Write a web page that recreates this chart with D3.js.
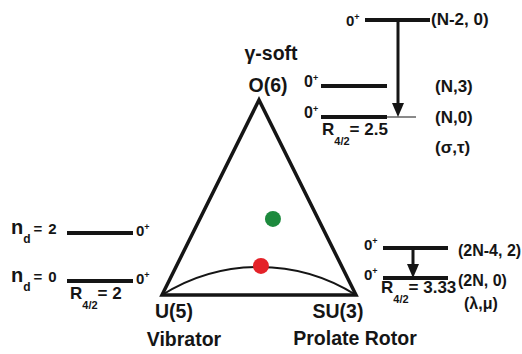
<!DOCTYPE html>
<html>
<head>
<meta charset="utf-8">
<script src="https://cdn.jsdelivr.net/npm/d3@7"></script>
<style>
  body { margin: 0; background: #fff; }
  text { font-family: "Liberation Sans", Arial, sans-serif; font-weight: bold; fill: #151515; }
</style>
</head>
<body>
<svg></svg>
<script>
const WIDTH = 522;
const HEIGHT = 354;
const INK = "#151515";

// triangle corners (normalised coordinates) and their names
const vertexNames = ["U(5)", "SU(3)", "O(6)"];
const vertexLimits = ["Vibrator", "Prolate Rotor", "γ-soft"];
const vertexX = [0, 1, 0.5];
const vertexY = [0, 0, 1];

// nuclei placed inside the triangle
const pointX = [0.572, 0.51];
const pointY = [0.39, 0.149];
const pointColors = ["#1d8a3d", "#e42229"];

// height of the arc joining U(5) and SU(3)
const arcHeight = 0.144;

// level schemes (relative energies)
const u5Energies = [0, 1];
const u5Names = ["0", "2"];
const u5Ratio = "2";

const o6Energies = [0, 0.32, 1];
const o6Names = ["(N,0)", "(N,3)", "(N-2, 0)"];
const o6Ratio = "2.5";

const su3Energies = [0, 1];
const su3Names = ["(2N, 0)", "(2N-4, 2)"];
const su3Ratio = "3.33";

const svg = d3.select("svg").attr("width", WIDTH).attr("height", HEIGHT);

// ---- triangle ----
const xScale = d3.scaleLinear().domain([0, 1]).range([162, 356]);
const yScale = d3.scaleLinear().domain([0, 1]).range([295, 100]);

const corners = vertexX.map((x, i) => [xScale(x), yScale(vertexY[i])]);
svg.append("path")
   .attr("d", "M" + corners.join("L") + "Z")
   .attr("fill", "none")
   .attr("stroke", INK)
   .attr("stroke-width", 3.5)
   .attr("stroke-linejoin", "miter");

// circular arc through both bottom corners
const chord = xScale(1) - xScale(0);
const sag = yScale(0) - yScale(arcHeight);
const radius = (chord * chord / 4 + sag * sag) / (2 * sag);
svg.append("path")
   .attr("d", `M${xScale(0)},${yScale(0)} A${radius},${radius} 0 0 1 ${xScale(1)},${yScale(0)}`)
   .attr("fill", "none")
   .attr("stroke", INK)
   .attr("stroke-width", 2);

svg.selectAll(".pt")
   .data(pointX)
   .enter()
   .append("circle")
   .attr("class", "pt")
   .attr("cx", d => xScale(d))
   .attr("cy", (_, i) => yScale(pointY[i]))
   .attr("r", 8)
   .attr("fill", (_, i) => pointColors[i]);

// corner names and limit names
const nameOffsets = [[12, 23], [-18, 23], [9, -8]];
const limitOffsets = [[22, 51], [-1, 50], [12, -40]];
vertexNames.forEach((name, i) => {
   svg.append("text")
      .attr("x", corners[i][0] + nameOffsets[i][0])
      .attr("y", corners[i][1] + nameOffsets[i][1])
      .attr("text-anchor", "middle")
      .attr("font-size", 19.5)
      .text(name);
   svg.append("text")
      .attr("x", corners[i][0] + limitOffsets[i][0])
      .attr("y", corners[i][1] + limitOffsets[i][1])
      .attr("text-anchor", "middle")
      .attr("font-size", 19.5)
      .text(vertexLimits[i]);
});

// ---- helpers for level schemes ----
function level(x1, x2, y, w) {
   svg.append("line")
      .attr("x1", x1).attr("x2", x2)
      .attr("y1", y).attr("y2", y)
      .attr("stroke", INK)
      .attr("stroke-width", w || 4);
}

function zeroPlus(x, y, size) {
   const t = svg.append("text")
      .attr("x", x)
      .attr("y", y)
      .attr("font-size", size || 15);
   t.append("tspan").text("0");
   t.append("tspan").attr("font-size", 9).attr("dy", -6).text("+");
}

function ratio(x, y, value) {
   const t = svg.append("text")
      .attr("x", x)
      .attr("y", y)
      .attr("font-size", 17);
   t.append("tspan").text("R");
   t.append("tspan").attr("font-size", 11).attr("dy", 10).text("4/2");
   t.append("tspan").attr("dy", -10).text("= " + value);
}

function label(x, y, s, size) {
   svg.append("text")
      .attr("x", x)
      .attr("y", y)
      .attr("font-size", size || 17)
      .text(s);
}

function arrow(x, y1, y2) {
   svg.append("line")
      .attr("x1", x).attr("x2", x)
      .attr("y1", y1).attr("y2", y2 - 12)
      .attr("stroke", INK)
      .attr("stroke-width", 3);
   svg.append("path")
      .attr("d", `M${x - 6},${y2 - 14}L${x + 6},${y2 - 14}L${x},${y2}Z`)
      .attr("fill", INK);
}

// ---- U(5) scheme ----
const u5Y = d3.scaleLinear().domain([0, 1]).range([281, 233]);
u5Energies.forEach((e, i) => {
   const y = u5Y(e);
   level(67, 133, y);
   zeroPlus(136, y + 3, 15);
   const t = svg.append("text").attr("x", 11).attr("y", y + 1).attr("font-size", 20);
   t.append("tspan").text("n");
   t.append("tspan").attr("font-size", 12).attr("dy", 9).text("d");
   t.append("tspan").attr("font-size", 15).attr("dy", -9).attr("dx", 3).text("=");
   t.append("tspan").attr("font-size", 15).attr("dx", 6).text(u5Names[i]);
});
ratio(70, u5Y(0) + 18, u5Ratio);

// ---- O(6) scheme ----
const o6Y = d3.scaleLinear().domain([0, 1]).range([117, 20]);
o6Energies.forEach((e, i) => {
   const y = o6Y(e);
   if (i === o6Energies.length - 1) {
      level(365, 430, y);
      zeroPlus(346, y + 6, 15);
      label(431, y + 5, o6Names[i]);
   } else {
      level(321, 387, y);
      zeroPlus(304, y + 1, 16);
      label(435, y + 6, o6Names[i]);
   }
});
level(387, 416, o6Y(0), 1);
arrow(398, o6Y(1), o6Y(0));
ratio(322, o6Y(0) + 18, o6Ratio);
label(435, o6Y(0) + 36, "(σ,τ)");

// ---- SU(3) scheme ----
const su3Y = d3.scaleLinear().domain([0, 1]).range([278, 248]);
su3Energies.forEach((e, i) => {
   const y = su3Y(e);
   level(383, 448, y);
   zeroPlus(364, y + 2, 15);
   label(458, y + 8, su3Names[i], 16);
});
arrow(413, su3Y(1), su3Y(0));
ratio(381, su3Y(0) + 15, su3Ratio);
label(464, su3Y(0) + 31, "(λ,μ)", 16);
</script>
</body>
</html>
